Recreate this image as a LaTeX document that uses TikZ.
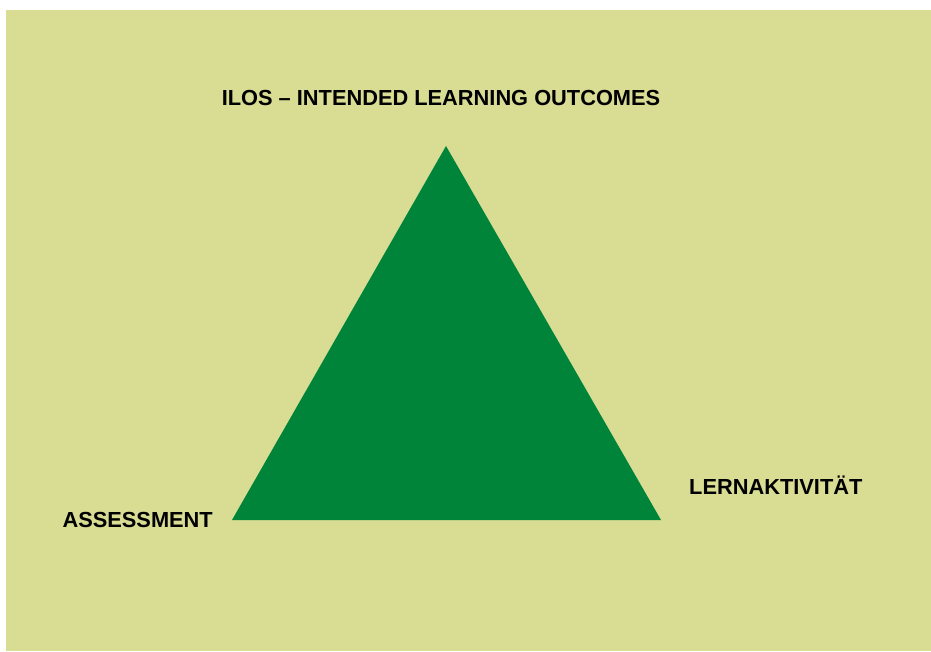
\documentclass[tikz,border=0pt]{standalone}
\usepackage{fontspec}
\setmainfont{Liberation Sans}
\usepackage{xcolor}
\definecolor{paper}{HTML}{D9DC93}
\definecolor{leaf}{HTML}{00843A}
\usepackage{tikz}
\usetikzlibrary{positioning}

\begin{document}
\begin{tikzpicture}[x=1pt, y=-1pt,
  corner/.style={font=\bfseries\fontsize{21.8}{26}\selectfont, text=black, inner sep=0pt}]
  % Frame
  \useasboundingbox (0,0) rectangle (931,651);
  \fill[white] (0,0) rectangle (931,651);
  \fill[paper] (6,10) rectangle (931,651);
  
  % Triangle
  \coordinate (top) at (446,146);
  \coordinate (left) at (232,520);
  \coordinate (right) at (661,520);
  \fill[leaf] (top) -- (left) -- (right) -- cycle;
  
  % Labels
  \node[corner] (ilos) at (441,98) {ILOS -- INTENDED LEARNING OUTCOMES};
  \node[corner, anchor=east] (assess) at (213,520) {ASSESSMENT};
  \node[corner, anchor=west] (lern) at (689,485) {LERNAKTIVITÄT};
\end{tikzpicture}
\end{document}
